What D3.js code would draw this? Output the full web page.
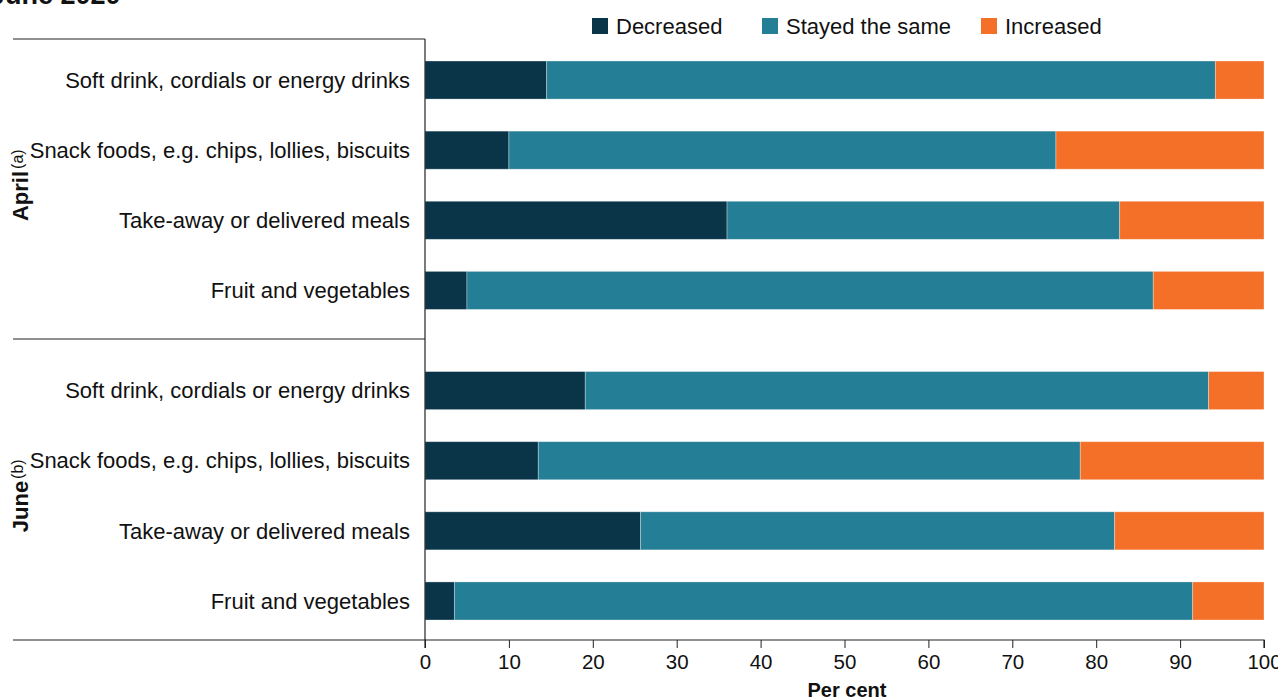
<!DOCTYPE html>
<html><head><meta charset="utf-8">
<script src="https://cdn.jsdelivr.net/npm/d3@7"></script>
<style>body{margin:0;background:#fff}text{font-family:"Liberation Sans",Arial,sans-serif;fill:#111}</style>
</head><body><svg id="c" width="1278" height="700"></svg>
<script>
const categories = ["Soft drink, cordials or energy drinks","Snack foods, e.g. chips, lollies, biscuits","Take-away or delivered meals","Fruit and vegetables"];
const groups = [{name:"April", note:"(a)"},{name:"June", note:"(b)"}];
const seriesNames = ["Decreased","Stayed the same","Increased"];
const colors = ["#0a3549","#247e96","#f47028"];
const aprilDecreased = [14.5, 10.0, 36.0, 5.0];
const aprilSame      = [79.7, 65.2, 46.8, 81.8];
const aprilIncreased = [5.8, 24.8, 17.2, 13.2];
const juneDecreased  = [19.1, 13.5, 25.7, 3.5];
const juneSame       = [74.3, 64.6, 56.5, 88.0];
const juneIncreased  = [6.6, 21.9, 17.8, 8.5];
const xTicks = [0,10,20,30,40,50,60,70,80,90,100];

(function(){
const rows = [];
[[aprilDecreased,aprilSame,aprilIncreased],[juneDecreased,juneSame,juneIncreased]].forEach((g,gi)=>{
  categories.forEach((c,ci)=>{
    rows.push({group:gi, cat:c, Decreased:g[0][ci], "Stayed the same":g[1][ci], Increased:g[2][ci]});
  });
});

const svg = d3.select("#c");
const pL = 425, pR = 1264, pT = 39, pB = 640;
const x = d3.scaleLinear().domain([0,100]).range([pL,pR]);
const yG = d3.scaleBand().domain([0,1]).range([61, 620]).paddingInner(0.2);
const yI = d3.scaleBand().domain(categories).range([0, yG.bandwidth()]).paddingInner(32/70).paddingOuter(0);
const yPos = r => yG(r.group) + yI(r.cat);

// partial title
svg.append("text").attr("x",-10).attr("y",4).style("font-size","27px").style("font-weight","bold").text("June 2020");

const stack = d3.stack().keys(seriesNames)(rows);
svg.append("g").selectAll("g").data(stack).join("g")
  .attr("fill",(d,i)=>colors[i])
  .selectAll("rect").data(d=>d).join("rect")
  .attr("x",d=>x(d[0])).attr("width",d=>x(d[1])-x(d[0]))
  .attr("y",d=>yPos(d.data)).attr("height",yI.bandwidth())
  .attr("stroke","#fff").attr("stroke-opacity",0.4).attr("stroke-width",0.8);

// category labels
svg.append("g").selectAll("text").data(rows).join("text")
  .attr("x",410).attr("y",r=>yPos(r)+yI.bandwidth()/2).attr("dy","0.35em")
  .attr("text-anchor","end").style("font-size","22px").text(r=>r.cat);

// frame lines
const lc = "#222";
svg.append("line").attr("x1",13).attr("x2",pL).attr("y1",pT).attr("y2",pT).attr("stroke",lc).attr("stroke-width",1.2);
svg.append("line").attr("x1",13).attr("x2",pL).attr("y1",339).attr("y2",339).attr("stroke",lc).attr("stroke-width",1.2);
svg.append("line").attr("x1",pL).attr("x2",pL).attr("y1",pT).attr("y2",pB).attr("stroke",lc).attr("stroke-width",1.2);
svg.append("line").attr("x1",13).attr("x2",pL).attr("y1",pB).attr("y2",pB).attr("stroke",lc).attr("stroke-width",1.2);

// x axis
const ax = svg.append("g").attr("transform",`translate(0,${pB})`)
  .call(d3.axisBottom(x).tickValues(xTicks).tickSize(8).tickPadding(6).tickFormat(d3.format("d")));
ax.select(".domain").attr("stroke",lc).attr("stroke-width",1.2).attr("d",`M${pL},8V0H${pR}V8`);
ax.selectAll(".tick line").attr("stroke",lc);
ax.selectAll(".tick text").style("font-size","20.5px").style("font-family","'Liberation Sans',Arial,sans-serif").attr("fill","#111");
svg.append("text").attr("x",847).attr("y",697).attr("text-anchor","middle").style("font-size","20px").style("font-weight","bold").text("Per cent");

// group labels
groups.forEach((g,gi)=>{
  const cy = yG(gi) + yG.bandwidth()/2;
  const t = svg.append("text").attr("transform",`translate(28,${cy}) rotate(-90)`).attr("text-anchor","middle");
  t.append("tspan").style("font-size","22px").style("font-weight","bold").text(g.name);
  t.append("tspan").style("font-size","16px").attr("dx",2).attr("dy",-5).text(g.note);
});

// legend
const legX = [592, 762, 981];
const lg = svg.append("g").selectAll("g").data(seriesNames).join("g").attr("transform",(d,i)=>`translate(${legX[i]},18)`);
lg.append("rect").attr("width",16).attr("height",16).attr("fill",(d,i)=>colors[i]);
lg.append("text").attr("x",24).attr("y",16).style("font-size","22px").text(d=>d);
})();
</script></body></html>
